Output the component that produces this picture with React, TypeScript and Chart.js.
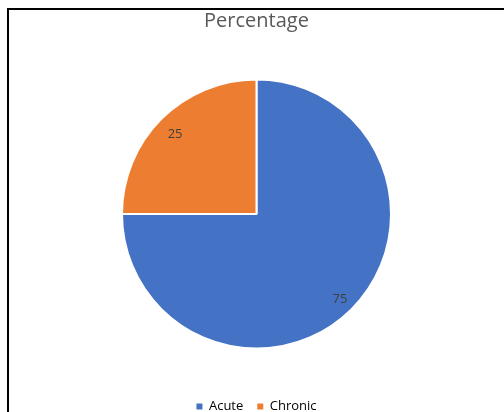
import React, { useEffect, useRef } from "react";
import { Chart, registerables } from "chart.js";

Chart.register(...registerables);

const titleText = "Percentage";
const categories = ["Acute", "Chronic"];
const values = [75, 25];
const colors = ["#4472C4", "#ED7D31"];

const FONT = "'Open Sans', 'Liberation Sans', sans-serif";

const dataLabelPlugin = {
  id: "sliceLabels",
  afterDatasetsDraw(chart: any) {
    const ctx = chart.ctx;
    const meta = chart.getDatasetMeta(0);
    ctx.save();
    ctx.font = `13px ${FONT}`;
    ctx.fillStyle = "#404040";
    ctx.textAlign = "center";
    ctx.textBaseline = "middle";
    meta.data.forEach((arc: any, i: number) => {
      const { x, y, startAngle, endAngle, outerRadius } = arc.getProps(
        ["x", "y", "startAngle", "endAngle", "outerRadius"],
        true
      );
      const mid = (startAngle + endAngle) / 2;
      const d = outerRadius - 18;
      ctx.fillText(String(values[i]), x + Math.cos(mid) * d + 1, y + Math.sin(mid) * d + 2.5);
    });
    ctx.restore();
  },
};

export default function App() {
  const canvasRef = useRef<HTMLCanvasElement | null>(null);

  useEffect(() => {
    const canvas = canvasRef.current;
    if (!canvas) return;
    const chart = new Chart(canvas, {
      type: "pie",
      data: {
        labels: categories,
        datasets: [
          {
            data: values,
            backgroundColor: colors,
            borderColor: "#FFFFFF",
            borderWidth: 2,
            hoverOffset: 0,
          },
        ],
      },
      options: {
        responsive: false,
        animation: false,
        radius: 134.5,
        layout: { padding: { left: 9, right: 0, top: 0, bottom: 0 } },
        plugins: {
          title: {
            display: true,
            text: titleText,
            color: "#595959",
            font: { family: FONT, size: 20, weight: "normal", lineHeight: 1.2 },
            padding: { top: 9.5, bottom: 8.5 },
          },
          legend: {
            display: true,
            position: "bottom",
            labels: {
              color: "#595959",
              font: { family: FONT, size: 13 },
              boxWidth: 6,
              boxHeight: 6,
              padding: 14,
              generateLabels: () =>
                categories.map((c, i) => ({
                  text: c,
                  fillStyle: colors[i],
                  strokeStyle: colors[i],
                  lineWidth: 0,
                  hidden: false,
                  index: i,
                })),
            },
          },
          tooltip: { enabled: false },
        },
      } as any,
      plugins: [dataLabelPlugin],
    });
    return () => chart.destroy();
  }, []);

  return (
    <div
      style={{
        position: "fixed",
        left: 0,
        top: 0,
        width: 504,
        height: 412,
        overflow: "hidden",
        background: "#FFFFFF",
      }}
    >
      <canvas
        ref={canvasRef}
        width={504}
        height={423}
        style={{ position: "absolute", left: 0, top: 0, width: 504, height: 423 }}
      />
      <div
        style={{
          position: "absolute",
          left: 7,
          top: 8,
          width: 600,
          height: 600,
          borderTop: "2px solid #000000",
          borderLeft: "2px solid #000000",
          pointerEvents: "none",
        }}
      />
    </div>
  );
}
